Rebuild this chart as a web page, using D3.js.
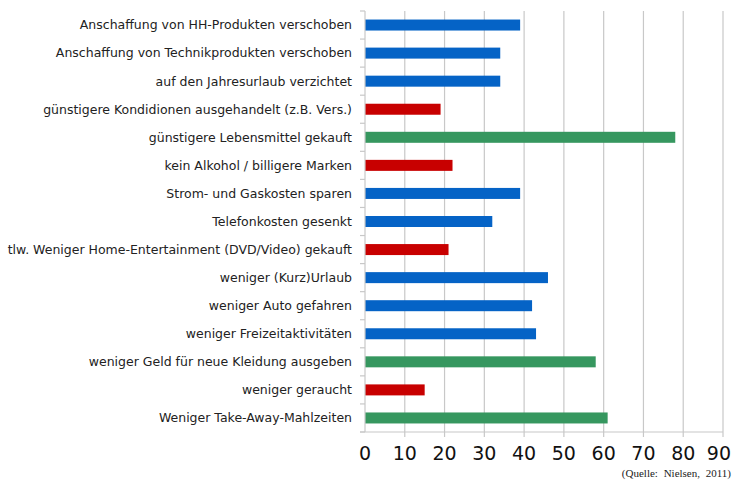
<!DOCTYPE html>
<html><head><meta charset="utf-8">
<script src="https://cdn.jsdelivr.net/npm/d3@7"></script>
<style>body{margin:0;background:#fff}svg{display:block}</style>
</head><body>
<script>
const categories = [
  "Anschaffung von HH-Produkten verschoben",
  "Anschaffung von Technikprodukten verschoben",
  "auf den Jahresurlaub verzichtet",
  "günstigere Kondidionen ausgehandelt (z.B. Vers.)",
  "günstigere Lebensmittel gekauft",
  "kein Alkohol / billigere Marken",
  "Strom- und Gaskosten sparen",
  "Telefonkosten gesenkt",
  "tlw. Weniger Home-Entertainment (DVD/Video) gekauft",
  "weniger (Kurz)Urlaub",
  "weniger Auto gefahren",
  "weniger Freizeitaktivitäten",
  "weniger Geld für neue Kleidung ausgeben",
  "weniger geraucht",
  "Weniger Take-Away-Mahlzeiten"
];
const values = [39, 34, 34, 19, 78, 22, 39, 32, 21, 46, 42, 43, 58, 15, 61];
const groups = ["b","b","b","r","g","r","b","b","r","b","b","b","g","r","g"];
const xTicks = [0,10,20,30,40,50,60,70,80,90];
const source = "(Quelle: Nielsen, 2011)";

const W = 733, H = 481;
const m = {left:365, right:10, top:11, bottom:49};
const color = d3.scaleOrdinal().domain(["b","r","g"]).range(["#0563c6","#c80000","#36975f"]);

const svg = d3.select("body").append("svg").attr("width",W).attr("height",H);
const x = d3.scaleLinear().domain([0,90]).range([m.left, 723]);
const yb = d3.scaleBand().domain(categories).range([m.top, H-m.bottom]);

// gridlines
svg.append("g").selectAll("line").data(xTicks.slice(1)).join("line")
  .attr("x1",d=>x(d)).attr("x2",d=>x(d)).attr("y1",m.top).attr("y2",H-m.bottom+5)
  .attr("stroke","#c8c8c8").attr("stroke-width",1.2);

// bars
svg.append("g").selectAll("rect").data(categories).join("rect")
  .attr("x",x(0)).attr("y",d=>yb(d)+yb.bandwidth()/2-5.5)
  .attr("width",(d,i)=>x(values[i])-x(0)).attr("height",11)
  .attr("fill",(d,i)=>color(groups[i]));

// y axis line + ticks at band boundaries
const bounds = categories.map(c=>yb(c)).concat([H-m.bottom]);
svg.append("line").attr("x1",x(0)).attr("x2",x(0)).attr("y1",m.top).attr("y2",H-m.bottom)
  .attr("stroke","#c8c8c8").attr("stroke-width",1.2);
svg.append("g").selectAll("line").data(bounds).join("line")
  .attr("x1",x(0)-5).attr("x2",x(0)).attr("y1",d=>d).attr("y2",d=>d)
  .attr("stroke","#c8c8c8").attr("stroke-width",1.2);
// x axis line
svg.append("line").attr("x1",x(0)-5).attr("x2",x(90)).attr("y1",H-m.bottom).attr("y2",H-m.bottom)
  .attr("stroke","#c8c8c8").attr("stroke-width",1.2);

// category labels
svg.append("g").selectAll("text").data(categories).join("text")
  .attr("x",x(0)-13).attr("y",d=>yb(d)+yb.bandwidth()/2)
  .attr("dy","0.35em").attr("text-anchor","end")
  .attr("font-family","DejaVu Sans, Verdana, sans-serif").attr("font-size",12.5)
  .attr("fill","#222").text(d=>d);

// x tick labels
svg.append("g").selectAll("text").data(xTicks).join("text")
  .attr("x",(d,i)=>i===xTicks.length-1 ? W-2 : x(d)).attr("y",460)
  .attr("text-anchor",(d,i)=>i===xTicks.length-1 ? "end" : "middle")
  .attr("font-family","DejaVu Sans, Verdana, sans-serif").attr("font-size",19)
  .attr("fill","#111").text(d=>d);

svg.append("text").attr("x",W-2).attr("y",477).attr("text-anchor","end")
  .attr("font-family","Liberation Serif, Times New Roman, serif").attr("font-size",11)
  .attr("word-spacing",3).attr("fill","#222").text(source);
</script>
</body></html>
